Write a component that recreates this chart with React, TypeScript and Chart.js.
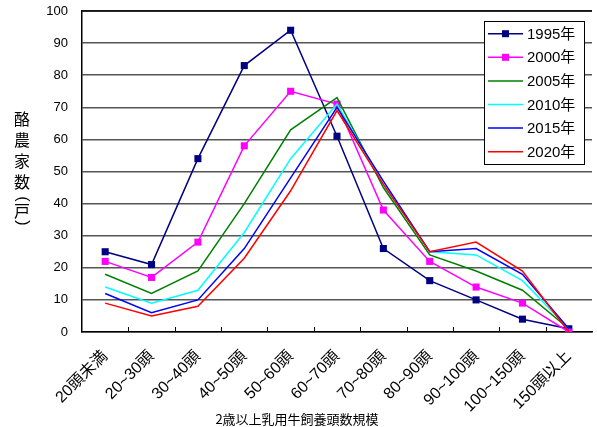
import React, { useEffect, useRef } from "react";
import { Chart, registerables } from "chart.js";

Chart.register(...registerables);

const categories = [
  "20頭未満", "20~30頭", "30~40頭", "40~50頭", "50~60頭", "60~70頭",
  "70~80頭", "80~90頭", "90~100頭", "100~150頭", "150頭以上",
];
const seriesNames = ["1995年", "2000年", "2005年", "2010年", "2015年", "2020年"];
const s1995 = [25, 21, 54, 83, 94, 61, 26, 16, 10, 4, 1];
const s2000 = [22, 17, 28, 58, 75, 71, 38, 22, 14, 9, 0];
const s2005 = [18, 12, 19, 40, 63, 73, 45, 24, 19, 13, 1];
const s2010 = [14, 9, 13, 31, 54, 71, 46, 25, 24, 16, 1];
const s2015 = [12, 6, 10, 26, 48, 70, 47, 25, 26, 18, 1];
const s2020 = [9, 5, 8, 23, 44, 69, 46, 25, 28, 19, 0];
const colors = ["#000080", "#FF00FF", "#008000", "#00FFFF", "#0000FF", "#FF0000"];
const markers = [true, true, false, false, false, false];
const yTitleChars = ["酪", "農", "家", "数"];
const xTitle = "2歳以上乳用牛飼養頭数規模";

const FONT = '"Liberation Sans", "Noto Sans CJK JP", sans-serif';

const overlay = {
  id: "overlay",
  afterDraw(chart: any) {
    const ctx = chart.ctx;
    const xs = chart.scales.x;
    const area = chart.chartArea;
    ctx.save();
    // inside tick marks at category boundaries
    ctx.strokeStyle = "#000";
    ctx.lineWidth = 1;
    for (let i = 0; i < categories.length - 1; i++) {
      const bx = Math.round((xs.getPixelForValue(i) + xs.getPixelForValue(i + 1)) / 2) + 0.5;
      ctx.beginPath();
      ctx.moveTo(bx, area.bottom);
      ctx.lineTo(bx, area.bottom - 5);
      ctx.stroke();
    }
    // top border
    ctx.lineWidth = 1.5;
    ctx.beginPath();
    ctx.moveTo(area.left, area.top);
    ctx.lineTo(area.right, area.top);
    ctx.stroke();

    // y title (vertical)
    ctx.fillStyle = "#000";
    ctx.textAlign = "center";
    ctx.textBaseline = "middle";
    ctx.font = '16px "Noto Sans CJK JP", sans-serif';
    yTitleChars.forEach((c, i) => ctx.fillText(c, 22, 119 + i * 21));
    ctx.fillText("戸", 22, 211);
    ctx.font = '16px "Liberation Sans", sans-serif';
    [["(", 199], [")", 223]].forEach(([c, y]) => {
      ctx.save();
      ctx.translate(22, y as number);
      ctx.rotate(Math.PI / 2);
      ctx.fillText(c as string, 0, 0);
      ctx.restore();
    });

    // x title
    ctx.font = '13px "Noto Sans CJK JP", sans-serif';
    ctx.fillText(xTitle, 297, 419);

    // legend
    const bx0 = 484, by0 = 21, bw = 100, bh = 143;
    ctx.fillStyle = "#fff";
    ctx.fillRect(bx0, by0, bw, bh);
    ctx.strokeStyle = "#000";
    ctx.lineWidth = 1;
    ctx.strokeRect(bx0 + 0.5, by0 + 0.5, bw, bh);
    ctx.font = '15px ' + FONT;
    ctx.textAlign = "left";
    seriesNames.forEach((name, i) => {
      const y = 33.7 + i * 23.6;
      ctx.strokeStyle = colors[i];
      ctx.lineWidth = 1.5;
      ctx.beginPath();
      ctx.moveTo(488, y);
      ctx.lineTo(523, y);
      ctx.stroke();
      if (markers[i]) {
        ctx.fillStyle = colors[i];
        ctx.fillRect(505.5 - 3.5, y - 3.5, 7, 7);
      }
      ctx.fillStyle = "#000";
      ctx.fillText(name, 527, y + 1);
    });
    ctx.restore();
  },
};

export default function App() {
  const ref = useRef<HTMLCanvasElement>(null);
  useEffect(() => {
    const all = [s1995, s2000, s2005, s2010, s2015, s2020];
    const chart = new Chart(ref.current!, {
      type: "line",
      data: {
        labels: categories,
        datasets: all.map((d, i) => ({
          label: seriesNames[i],
          data: d,
          borderColor: colors[i],
          backgroundColor: colors[i],
          borderWidth: 1.5,
          pointStyle: "rect",
          pointRadius: markers[i] ? 5 : 0,
          pointBorderWidth: 0,
          tension: 0,
          order: all.length - i,
        })),
      },
      options: {
        animation: false,
        responsive: false,
        devicePixelRatio: 1,
        layout: { padding: { top: 11, left: 0, right: 0, bottom: 0 } },
        plugins: {
          legend: { display: false },
          title: { display: false },
          tooltip: { enabled: false },
        },
        scales: {
          x: {
            offset: true,
            grid: { display: false, drawTicks: true, tickLength: 8 },
            border: { color: "#000", width: 1.5 },
            ticks: {
              color: "#000",
              font: { size: 16, family: FONT },
              minRotation: 45,
              maxRotation: 45,
              padding: 7,
              autoSkip: false,
            },
            afterFit: (s: any) => {
              s.height = 95;
              s.paddingLeft = 0;
              s.paddingRight = 0;
              s.paddingTop = 0;
              s.paddingBottom = 0;
            },
          },
          y: {
            min: 0,
            max: 100,
            ticks: {
              stepSize: 10,
              color: "#000",
              font: { size: 13, family: FONT },
              padding: 14,
            },
            grid: { color: "#555", lineWidth: 1.5, drawTicks: false },
            border: { color: "#000", width: 1.5 },
            afterFit: (s: any) => {
              s.width = 82;
              s.paddingTop = 0;
              s.paddingBottom = 0;
              s.paddingLeft = 0;
              s.paddingRight = 0;
            },
          },
        },
      },
      plugins: [overlay],
    });
    return () => chart.destroy();
  }, []);
  return (
    <div style={{ position: "fixed", left: 0, top: 0, width: 597, height: 427, background: "#fff" }}>
      <canvas ref={ref} width={597} height={427} />
    </div>
  );
}
